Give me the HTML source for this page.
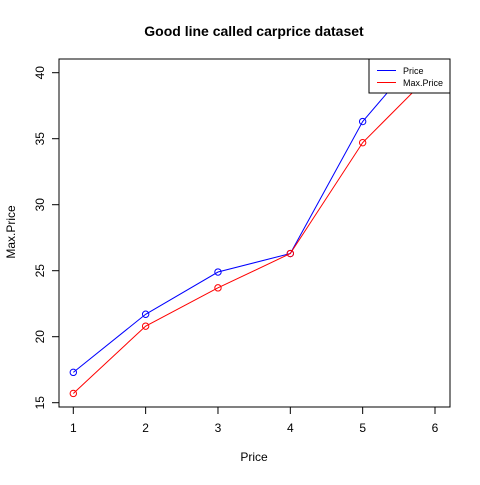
<!DOCTYPE html>
<html><head><meta charset="utf-8"><style>
body{margin:0;background:#fff}
svg text{font-family:"Liberation Sans",sans-serif;fill:#000}
</style></head><body>
<svg width="480" height="480" viewBox="0 0 480 480">
<defs><clipPath id="pc"><rect x="59" y="59" width="391" height="348"/></clipPath></defs>
<text x="254" y="36" font-size="14" font-weight="bold" text-anchor="middle">Good line called carprice dataset</text>
<text x="254" y="461" font-size="12" text-anchor="middle">Price</text>
<text transform="translate(15,232) rotate(-90)" font-size="12" text-anchor="middle">Max.Price</text>
<rect x="59" y="59" width="391" height="348" fill="none" stroke="#000"/>
<g id="axes"></g>
<g id="series" clip-path="url(#pc)"></g>
<g>
<rect x="369" y="59" width="81" height="34" fill="#fff" stroke="#000"/>
<line x1="377" y1="70.5" x2="396" y2="70.5" stroke="#0000ff"/>
<text x="403" y="74" font-size="9">Price</text>
<line x1="377" y1="82.5" x2="396" y2="82.5" stroke="#ff0000"/>
<text x="403" y="86" font-size="9">Max.Price</text>
</g>
</svg>
<script>
const categories=[1,2,3,4,5,6];
const priceValues=[17.3,21.7,24.9,26.3,36.3,42.7];
const maxPriceValues=[15.7,20.8,23.7,26.3,34.7,40.2];
const xTicks=[1,2,3,4,5,6];
const yTicks=[15,20,25,30,35,40];
const NS="http://www.w3.org/2000/svg";
function xs(v){return 73.3+(v-1)*72.34;}
function ys(v){return 402.7-(v-15)*13.2;}
function mk(t,a,p){const e=document.createElementNS(NS,t);for(const k in a)e.setAttribute(k,a[k]);p.appendChild(e);return e;}
const ax=document.getElementById('axes');
mk('line',{x1:xs(xTicks[0]),x2:xs(xTicks[xTicks.length-1]),y1:407,y2:407,stroke:'#000'},ax);
xTicks.forEach(t=>{
 const l=mk('line',{x1:xs(t),x2:xs(t),y1:407,y2:414,stroke:'#000'},ax);
 
 
 const tx=mk('text',{x:xs(t),y:432,'font-size':12,'text-anchor':'middle'},ax);tx.textContent=t;
 
 
});
mk('line',{x1:59,x2:59,y1:ys(yTicks[0]),y2:ys(yTicks[yTicks.length-1]),stroke:'#000'},ax);
yTicks.forEach(t=>{
 const l=mk('line',{x1:52,x2:59,y1:ys(t),y2:ys(t),stroke:'#000'},ax);
 
 
 const tx=mk('text',{transform:`translate(44,${ys(t)}) rotate(-90)`,'font-size':12,'text-anchor':'middle'},ax);tx.textContent=t;
 
 
});
const sg=document.getElementById('series');
function draw(vals,col,name){
 const pl=mk('polyline',{points:categories.map((c,i)=>xs(c)+','+ys(vals[i])).join(' '),fill:'none',stroke:col},sg);
 
 
 categories.forEach((c,i)=>{
  const ci=mk('circle',{cx:xs(c),cy:ys(vals[i]),r:3.2,fill:'none',stroke:col},sg);
  
  
 });
}
draw(priceValues,'#0000ff','price');
draw(maxPriceValues,'#ff0000','max-price');
</script>
</body></html>
